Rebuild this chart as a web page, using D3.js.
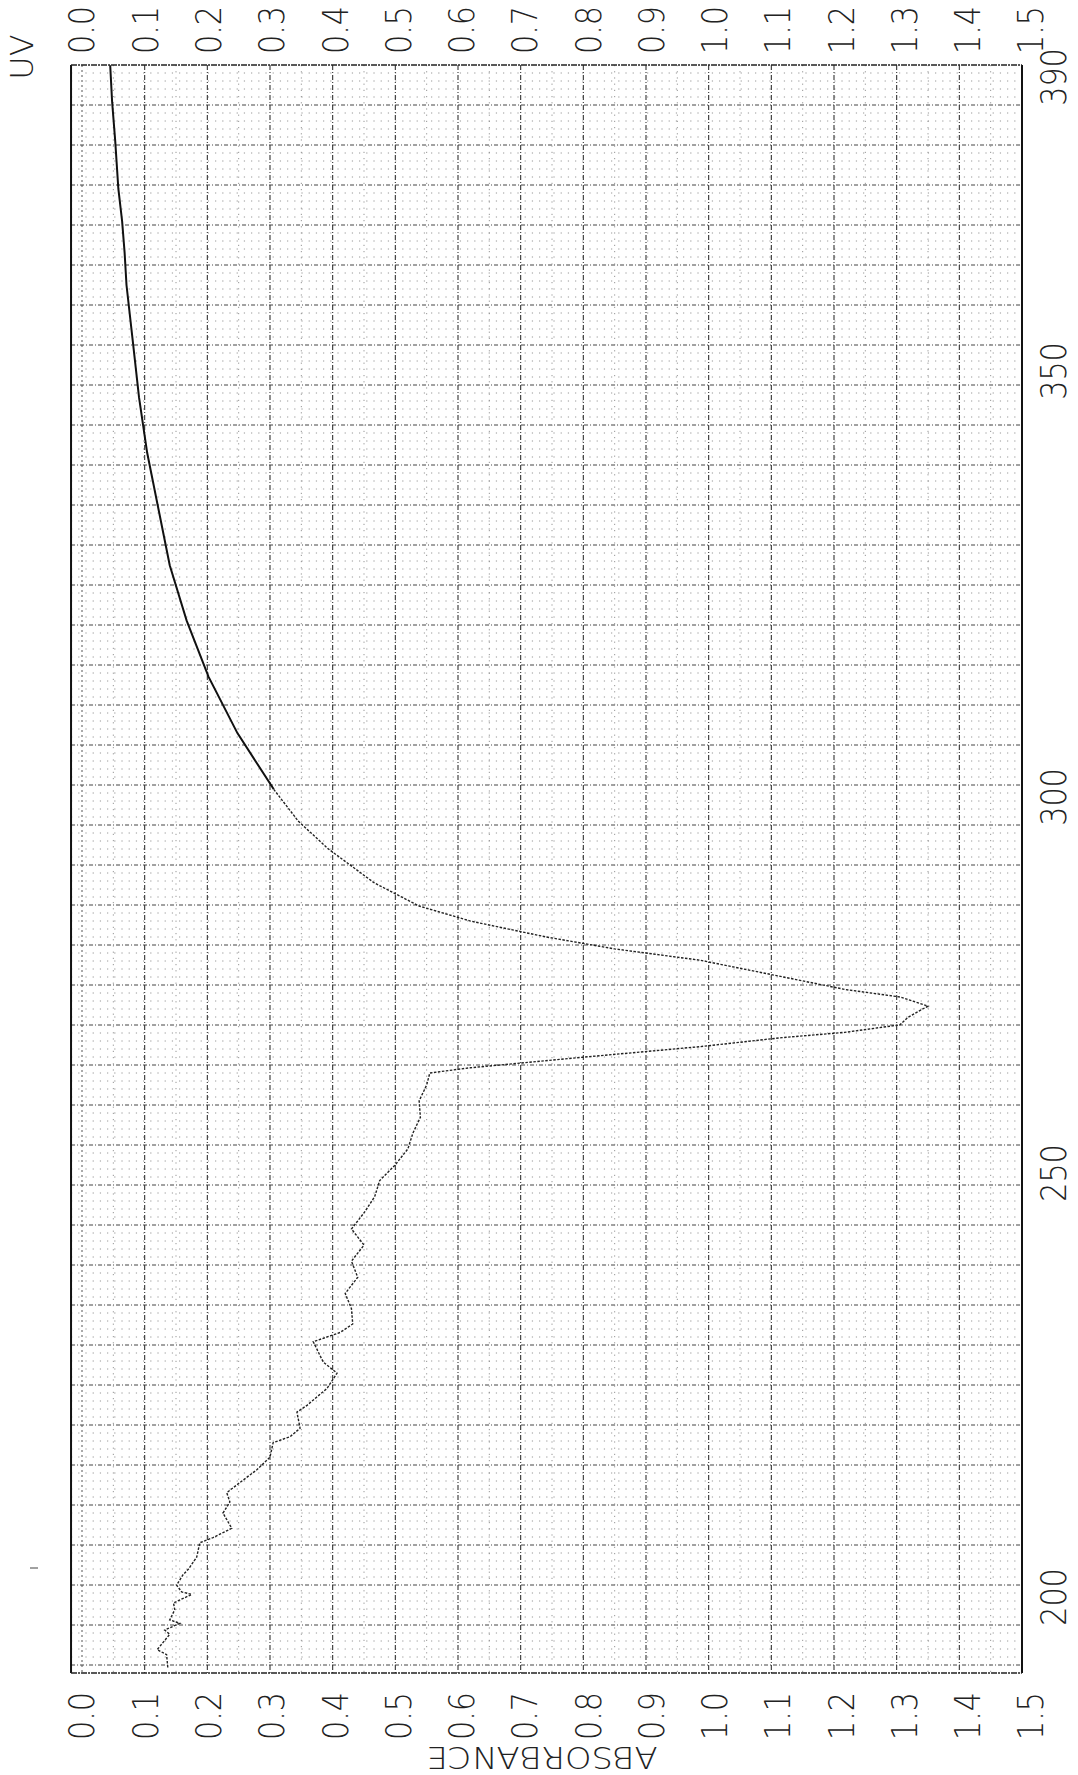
<!DOCTYPE html>
<html><head><meta charset="utf-8">
<script src="https://cdn.jsdelivr.net/npm/d3@7/dist/d3.min.js"></script>
<style>body{margin:0;background:#fff}svg{display:block}</style>
</head><body>
<script>
// ---- data ----
const wavelengths = [391.6,386.7,381.3,374.8,370.4,366.1,361.7,354.1,346.9,340.4,333.8,327.2,320.7,314.1,307.5,300.9,296.8,293.1,288.6,285.5,283.5,281.4,279.8,278.3,276.1,274.4,273.4,272.2,270.7,269.7,268.7,268.0,266.8,265.4,264.0,263.3,261.7,259.6,257.4,255.3,253.2,251.1,249.1,247.2,245.3,243.4,241.5,239.6,237.7,235.8,234.0,232.2,231.2,230.1,227.7,226.4,224.6,223.6,222.6,221.8,219.9,218.9,218.2,216.5,215.0,213.5,212.3,211.2,209.9,208.1,207.0,206.4,204.7,203.3,202.6,201.4,200.6,200.3,199.3,198.5,197.3,196.9,196.1,195.6,193.8,193.2,191.6];
const absorbance = [0.045,0.048,0.053,0.058,0.064,0.068,0.071,0.081,0.091,0.104,0.122,0.140,0.167,0.202,0.248,0.306,0.345,0.393,0.466,0.538,0.62,0.74,0.85,0.986,1.117,1.218,1.306,1.35,1.318,1.305,1.217,1.117,0.986,0.80,0.62,0.555,0.55,0.538,0.54,0.528,0.52,0.50,0.475,0.467,0.45,0.43,0.45,0.43,0.44,0.42,0.43,0.432,0.412,0.369,0.385,0.407,0.391,0.375,0.359,0.343,0.348,0.332,0.305,0.30,0.279,0.252,0.231,0.236,0.225,0.239,0.209,0.188,0.183,0.17,0.161,0.151,0.159,0.175,0.146,0.148,0.14,0.156,0.132,0.14,0.12,0.135,0.137];
const absTicks = [0.0,0.1,0.2,0.3,0.4,0.5,0.6,0.7,0.8,0.9,1.0,1.1,1.2,1.3,1.4,1.5];
const absTickLabels = ["0.0","0.1","0.2","0.3","0.4","0.5","0.6","0.7","0.8","0.9","1.0","1.1","1.2","1.3","1.4","1.5"];
const nmTicks = [390,350,300,250,200];
const nmTickLabels = ["390","350","300","250","200"];
const cornerLabel = "UV";
const axisTitle = "ABSORBANCE";

// ---- layout ----
const W = 1078, H = 1775;
const svg = d3.select("body").append("svg").attr("width", W).attr("height", H);
svg.append("rect").attr("width", W).attr("height", H).attr("fill", "#fff");

const x = d3.scaleLinear().domain([0, 1.5]).range([82, 1022]);
// wavelength axis as printed by the recorder (slightly uneven)
const y = d3.scaleLinear().domain([391.63, 390, 350, 300, 250, 200, 191.04])
  .range([65, 77, 371, 797, 1173, 1597, 1673]);
// chart-paper rulings (uniform)
const paper = d3.scaleLinear().domain([0, 201]).range([65, 1673]);
const xLeft = x(-0.0175), xRight = x(1.5);
const yTop = paper(0), yBot = paper(201);

const grid = svg.append("g");
d3.range(1, 201).forEach(v => {
  const major = v % 5 === 0;
  grid.append("line")
    .attr("x1", xLeft).attr("x2", xRight).attr("y1", paper(v)).attr("y2", paper(v))
    .attr("stroke", major ? "#444" : "#8a8a8a")
    .attr("stroke-width", major ? 1 : 0.9)
    .attr("stroke-dasharray", major ? "4 2 1 2" : "1.2 6");
});
d3.range(1, 30).forEach(i => {
  const v = i * 0.05;
  const major = i % 2 === 0;
  grid.append("line")
    .attr("x1", x(v)).attr("x2", x(v)).attr("y1", yTop).attr("y2", yBot)
    .attr("stroke", major ? "#333" : "#8a8a8a")
    .attr("stroke-width", major ? 1.1 : 0.9)
    .attr("stroke-dasharray", major ? "5 2 1 2" : "1.2 5");
});
grid.append("line").attr("x1", x(0)).attr("x2", x(0)).attr("y1", yTop).attr("y2", yBot)
  .attr("stroke", "#555").attr("stroke-dasharray", "2 3");

// frame
svg.append("line").attr("x1", xLeft).attr("x2", xLeft).attr("y1", yTop).attr("y2", yBot).attr("stroke", "#111").attr("stroke-width", 2);
svg.append("line").attr("x1", xRight).attr("x2", xRight).attr("y1", yTop).attr("y2", yBot).attr("stroke", "#111").attr("stroke-width", 2);
svg.append("line").attr("x1", xLeft).attr("x2", xRight).attr("y1", yTop).attr("y2", yTop).attr("stroke", "#222").attr("stroke-width", 1.5).attr("stroke-dasharray", "6 1 2 1");
svg.append("line").attr("x1", xLeft).attr("x2", xRight).attr("y1", yBot).attr("y2", yBot).attr("stroke", "#222").attr("stroke-width", 1.5).attr("stroke-dasharray", "6 1 2 1");

// curve
const pts = wavelengths.map((w, i) => [w, absorbance[i]]);
const line = d3.line().x(d => x(d[1])).y(d => y(d[0]));
svg.append("path").datum(pts.filter(d => d[0] >= 300))
  .attr("d", line).attr("fill", "none").attr("stroke", "#111").attr("stroke-width", 2);
svg.append("path").datum(pts.filter(d => d[0] <= 301))
  .attr("d", line).attr("fill", "none").attr("stroke", "#222").attr("stroke-width", 1.4)
  .attr("stroke-dasharray", "2.5 1.5");

// labels
const lab = svg.append("g").attr("font-family", "'DejaVu Sans', sans-serif").attr("font-weight", 200)
  .attr("fill", "#222").attr("font-size", 36);
absTicks.forEach((v, i) => {
  [30, 1716].forEach(cy => {
    lab.append("text").attr("transform", `translate(${x(v) + v * 6},${cy}) rotate(-90) scale(0.84,1)`)
      .attr("text-anchor", "middle").attr("dominant-baseline", "central")
      .text(absTickLabels[i]);
  });
});
nmTicks.forEach((v, i) => {
  lab.append("text").attr("transform", `translate(1054,${y(v)}) rotate(-90) scale(0.84,1)`)
    .attr("text-anchor", "middle").attr("dominant-baseline", "central")
    .text(nmTickLabels[i]);
});
lab.append("text").attr("transform", `translate(22,57) rotate(-90)`)
  .attr("text-anchor", "middle").attr("dominant-baseline", "central").attr("font-size", 32)
  .text(cornerLabel);
lab.append("text").attr("transform", `translate(542,1758) rotate(180)`)
  .attr("text-anchor", "middle").attr("dominant-baseline", "central").attr("font-size", 31)
  .attr("textLength", 231).attr("lengthAdjust", "spacingAndGlyphs")
  .text(axisTitle);
svg.append("line").attr("x1", 30).attr("x2", 38).attr("y1", 1568).attr("y2", 1568).attr("stroke", "#444");
</script>
</body></html>
